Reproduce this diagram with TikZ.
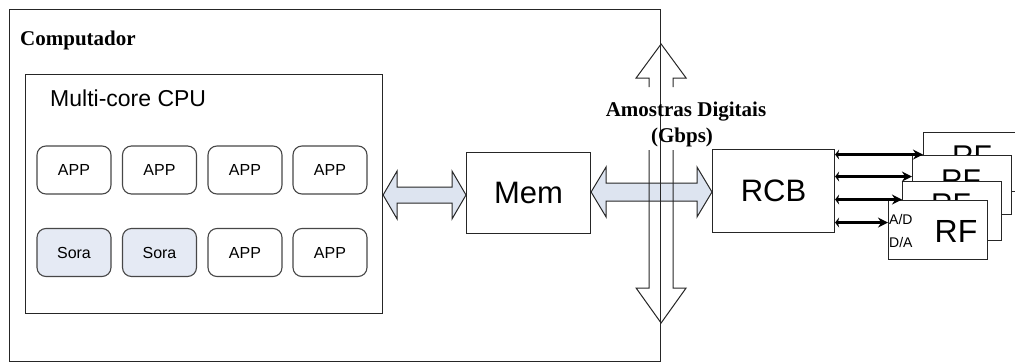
\documentclass[tikz,border=0pt]{standalone}
\usepackage{fontspec}
\setmainfont{Liberation Serif}
\newfontfamily\arialf{Liberation Sans}
\usetikzlibrary{calc,arrows.meta}
\pgfdeclarelayer{bg}
\pgfsetlayers{bg,main}
\definecolor{soraf}{HTML}{E5EAF4}
\definecolor{arrf}{HTML}{DDE4F0}
\definecolor{ln}{HTML}{262626}
\newcommand{\fatdblarrow}[5]{%
  \path[fat] let \p1=(#1), \p2=(#2) in
  (\x1,\y1) -- (\x1+#5,\y1+#4) -- (\x1+#5,\y1+#3) -- (\x2-#5,\y1+#3) -- (\x2-#5,\y1+#4) -- (\x2,\y1)
  -- (\x2-#5,\y1-#4) -- (\x2-#5,\y1-#3) -- (\x1+#5,\y1-#3) -- (\x1+#5,\y1-#4) -- cycle;}
\tikzset{
  box/.style={draw=ln, line width=1.1pt, inner sep=0pt, anchor=north west},
  appbox/.style={draw=ln!85, line width=1.1pt, rounded corners=9pt, minimum width=74pt,
    minimum height=48pt, inner sep=0pt, font=\arialf\fontsize{16}{16}\selectfont},
  sorabox/.style={appbox, fill=soraf},
  fat/.style={draw=ln, line width=1pt, fill=arrf, line join=miter},
  vline/.style={draw=ln, line width=1pt},
  rfbox/.style={box, fill=white, minimum width=99pt, minimum height=59pt},
  rfarrow/.style={draw=black, line width=2.3pt, {Stealth[length=4pt,width=10pt]}-{Stealth[length=10pt,width=10pt]}},
  big/.style={font=\arialf\fontsize{31}{31}\selectfont},
  rft/.style={font=\arialf\fontsize{30}{30}\selectfont, inner sep=0pt},
  serifb/.style={font=\bfseries\fontsize{21}{21}\selectfont, inner sep=0pt},
}
\begin{document}
\begin{tikzpicture}[x=1pt,y=-1pt]
\useasboundingbox (0,0) rectangle (1015,364);
% outer computer box
\node[box, minimum width=651pt, minimum height=352pt] (comp) at (9,9) {};
\node[serifb, anchor=west] (ttl) at (20,40) {Computador};
% CPU
\node[box, minimum width=357pt, minimum height=239pt] (cpu) at (25,74) {};
\node[anchor=west, inner sep=0pt, font=\arialf\fontsize{23}{23}\selectfont] (cput) at (50,98) {Multi-core CPU};
\node[appbox] (a1) at (74,170) {APP};
\node[appbox] (a2) at (159.5,170) {APP};
\node[appbox] (a3) at (245,170) {APP};
\node[appbox] (a4) at (330,170) {APP};
\node[sorabox] (s1) at (74,252.5) {Sora};
\node[sorabox] (s2) at (159.5,252.5) {Sora};
\node[appbox] (a5) at (245,252.5) {APP};
\node[appbox] (a6) at (330,252.5) {APP};
% Mem and RCB
\node[box, big, minimum width=124pt, minimum height=81pt] (mem) at (466,152) {Mem};
\node[box, big, minimum width=122pt, minimum height=83pt] (rcb) at (712,149) {RCB};
% fat arrows
\begin{pgfonlayer}{bg}
\fatdblarrow{cpu.east |- 0,195}{mem.west |- 0,195}{8pt}{24pt}{14pt}
\fatdblarrow{mem.east |- 0,192}{rcb.west |- 0,192}{9pt}{25pt}{15pt}
\end{pgfonlayer}
% vertical bus arrow
\coordinate (vtop) at (comp.east |- 0,44);
\coordinate (vbot) at (comp.east |- 0,323);
\draw[vline] ($(vtop)+(-12,43)$) -- ($(vtop)+(-12,34)$) -- ($(vtop)+(-25,34)$) -- (vtop)
  -- ($(vtop)+(25,34)$) -- ($(vtop)+(12,34)$) -- ($(vtop)+(12,43)$);
\draw[vline] ($(vbot)+(-12,-173)$) -- ($(vbot)+(-12,-35)$) -- ($(vbot)+(-25,-35)$) -- (vbot)
  -- ($(vbot)+(25,-35)$) -- ($(vbot)+(12,-35)$) -- ($(vbot)+(12,-173)$);
\node[serifb] (amo) at (686,112) {Amostras Digitais};
\node[serifb] (gbps) at (682,137) {(Gbps)};
% RF boxes
\node[rfbox] (rf1) at (923,132) {};
\node[rft] (rf1t) at (972,156) {RF};
\node[rfbox] (rf2) at (912,155) {};
\node[rft] (rf2t) at (961,180) {RF};
\node[rfbox] (rf3) at (902,181) {};
\node[rft] (rf3t) at (951,204) {RF};
\node[rfbox] (rf4) at (888,200) {};
\node[rft, font=\arialf\fontsize{32}{32}\selectfont] (rf4t) at (956,231.5) {RF};
\node[anchor=west, inner sep=0pt, font=\arialf\fontsize{14}{14}\selectfont] (ad) at (889,219) {A/D};
\node[anchor=west, inner sep=0pt, font=\arialf\fontsize{14}{14}\selectfont] (da) at (889,242) {D/A};
% RCB to RF arrows
\coordinate (p1) at ([yshift=7.5pt]rf1.west);
\coordinate (p2) at ([yshift=8.5pt]rf2.west);
\coordinate (p3) at ([yshift=11.5pt]rf3.west);
\coordinate (p4) at ([yshift=7.5pt]rf4.west);
\draw[rfarrow] (p1 -| rcb.east) -- (p1);
\draw[rfarrow] (p2 -| rcb.east) -- (p2);
\draw[rfarrow] (p3 -| rcb.east) -- (p3);
\draw[rfarrow] (p4 -| rcb.east) -- (p4);
\end{tikzpicture}
\end{document}
